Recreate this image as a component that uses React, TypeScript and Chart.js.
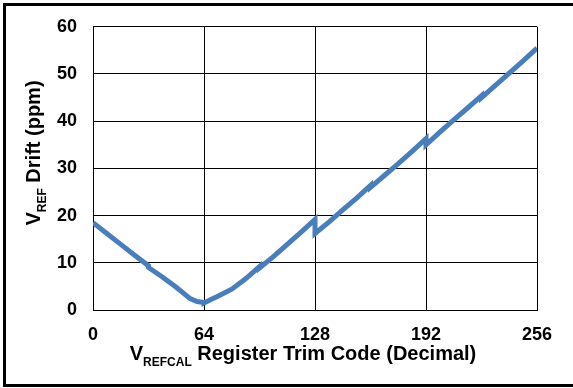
import React, { useEffect, useRef } from "react";
import { Chart, registerables } from "chart.js";

Chart.register(...registerables);

const trimCodes: number[] = [0, 8, 16, 24, 32, 32, 40, 48, 56, 60, 64, 64, 68, 72, 80, 88, 96, 96, 104, 112, 120, 128, 128, 136, 144, 152, 160, 160, 168, 176, 184, 192, 192, 200, 208, 216, 224, 224, 232, 240, 248, 256];
const driftPpm: number[] = [18.5, 16.2, 13.9, 11.6, 9.4, 9.0, 7.0, 4.8, 2.4, 1.8, 1.6, 1.5, 2.2, 2.9, 4.4, 6.6, 9.2, 8.9, 11.3, 13.9, 16.5, 19.2, 16.2, 18.6, 21.2, 23.7, 26.4, 26.0, 28.5, 31.0, 33.6, 36.3, 35.0, 37.7, 40.3, 42.8, 45.4, 45.0, 47.6, 50.2, 52.8, 55.5];
const xTicks: number[] = [0, 64, 128, 192, 256];
const yTicks: number[] = [0, 10, 20, 30, 40, 50, 60];

const FONT = "'Liberation Sans', Arial, sans-serif";

const titlePlugin = {
  id: "titles",
  afterDraw(chart: any) {
    const ctx = chart.ctx as CanvasRenderingContext2D;
    ctx.save();
    ctx.fillStyle = "#000";
    ctx.textBaseline = "alphabetic";
    ctx.textAlign = "left";
    const big = `bold 20px ${FONT}`;
    const small = `bold 12px ${FONT}`;

    // X title
    const xParts: [string, string, number][] = [
      ["V", big, 0],
      ["REFCAL", small, 6],
      [" Register Trim Code (Decimal)", big, 0],
    ];
    let total = 0;
    for (const [t, f] of xParts) { ctx.font = f; total += ctx.measureText(t).width; }
    let x = 303 - total / 2;
    const baseY = 360;
    for (const [t, f, dy] of xParts) {
      ctx.font = f;
      ctx.fillText(t, x, baseY + dy);
      x += ctx.measureText(t).width;
    }

    // Y title
    const yParts: [string, string, number][] = [
      ["V", big, 0],
      ["REF", small, 6],
      [" Drift (ppm)", big, 0],
    ];
    total = 0;
    for (const [t, f] of yParts) { ctx.font = f; total += ctx.measureText(t).width; }
    ctx.translate(40, 153);
    ctx.rotate(-Math.PI / 2);
    let p = -total / 2;
    for (const [t, f, dy] of yParts) {
      ctx.font = f;
      ctx.fillText(t, p, dy);
      p += ctx.measureText(t).width;
    }
    ctx.restore();
  },
};

export default function App() {
  const ref = useRef<HTMLCanvasElement | null>(null);
  useEffect(() => {
    if (!ref.current) return;
    const chart = new Chart(ref.current, {
      type: "line",
      data: {
        datasets: [
          {
            data: trimCodes.map((c, i) => ({ x: c, y: driftPpm[i] })),
            borderColor: "#4a7ebb",
            backgroundColor: "#4a7ebb",
            borderWidth: 5,
            pointRadius: 0,
            tension: 0,
            borderJoinStyle: "miter",
          },
        ],
      },
      options: {
        responsive: false,
        animation: false,
        devicePixelRatio: 1,
        layout: { padding: { top: 24, right: 36, left: 0, bottom: 0 } },
        plugins: { legend: { display: false }, tooltip: { enabled: false } },
        scales: {
          x: {
            type: "linear",
            min: 0,
            max: 256,
            afterBuildTicks: (s: any) => { s.ticks = xTicks.map((v) => ({ value: v })); },
            afterFit: (s: any) => { s.height = 78; },
            grid: { color: "#000", lineWidth: 1, drawTicks: false },
            border: { display: true, color: "#000", width: 1 },
            ticks: { color: "#000", padding: 14, maxRotation: 0, font: { family: FONT, size: 18, weight: "bold" } },
          },
          y: {
            type: "linear",
            min: 0,
            max: 60,
            afterBuildTicks: (s: any) => { s.ticks = yTicks.map((v) => ({ value: v })); },
            afterFit: (s: any) => { s.width = 93; },
            grid: { color: "#000", lineWidth: 1, drawTicks: false },
            border: { display: true, color: "#000", width: 1 },
            ticks: { color: "#000", padding: 16, font: { family: FONT, size: 18, weight: "bold" } },
          },
        },
      },
      plugins: [titlePlugin],
    } as any);
    return () => chart.destroy();
  }, []);

  return (
    <div style={{ position: "fixed", left: 0, top: 0, width: 573, height: 388, overflow: "hidden", background: "#fff" }}>
      <div style={{ position: "absolute", left: 3, top: 3, width: 620, height: 384, boxSizing: "border-box", border: "3px solid #000" }} />
      <canvas ref={ref} width={573} height={388} style={{ position: "absolute", left: 0, top: 0 }} />
    </div>
  );
}
